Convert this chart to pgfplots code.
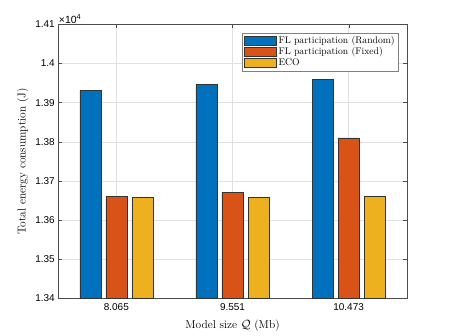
\documentclass[border=0pt]{standalone}
\usepackage{pgfplots}
\pgfplotsset{compat=1.18}
\usepackage{fontspec}
\newfontfamily\helv{Liberation Sans}
\definecolor{mblue}{rgb}{0,0.447,0.741}
\definecolor{morange}{rgb}{0.85,0.325,0.098}
\definecolor{myellow}{rgb}{0.929,0.694,0.125}
\begin{document}
\begin{tikzpicture}
  \begin{axis}[
    scale only axis, width=348.4bp, height=274bp,
    ybar=5bp, bar width=21bp,
    xmin=0.5, xmax=3.5, ymin=13400, ymax=14100,
    xtick={1,2,3}, xticklabels={8.065,9.551,10.473},
    ytick={13400,13500,...,14100},
    scaled y ticks=base 10:-4,
    ytick scale label code/.code={{\helv\fontsize{10.5}{11}\selectfont ×10\textsuperscript{4}}},
    every y tick scale label/.style={at={(rel axis cs:0,1)}, anchor=south west, inner sep=0.5pt},
    yticklabel style={/pgf/number format/fixed, /pgf/number format/precision=2},
    /pgf/number format/assume math mode=true,
    tick label style={font=\helv\fontsize{10}{12}\selectfont},
    xticklabel style={yshift=-1.5bp},
    tick align=inside, major tick length=4bp,
    grid=major, major grid style={black!12},
    axis line style={black!70}, tick style={black!70},
    xlabel={Model size $\mathcal{Q}$ (Mb)},
    ylabel={Total energy consumption (J)},
    label style={font=\fontsize{11.5}{13}\selectfont},
    xlabel style={yshift=-2.5bp},
    legend style={at={(rel axis cs:0.976,0.969)}, anchor=north east,
      draw=black!50, font=\fontsize{9.7}{11}\selectfont, row sep=-1.5pt,
      inner sep=1.5pt},
    legend cell align=left,
    legend image code/.code={\draw[#1] (0bp,-4.5bp) rectangle (32bp,4.5bp);},
    every axis plot/.append style={draw=black!80, line width=0.5pt},
  ]
    \addplot[fill=mblue] coordinates {(1,13932) (2,13947) (3,13960)};
    \addplot[fill=morange] coordinates {(1,13660) (2,13671) (3,13810)};
    \addplot[fill=myellow] coordinates {(1,13657) (2,13657) (3,13661)};
    \legend{FL participation (Random), FL participation (Fixed), ECO}
  \end{axis}
  \path (-58.3bp,-37.7bp) rectangle (390.7bp,298.3bp);
\end{tikzpicture}
\end{document}
